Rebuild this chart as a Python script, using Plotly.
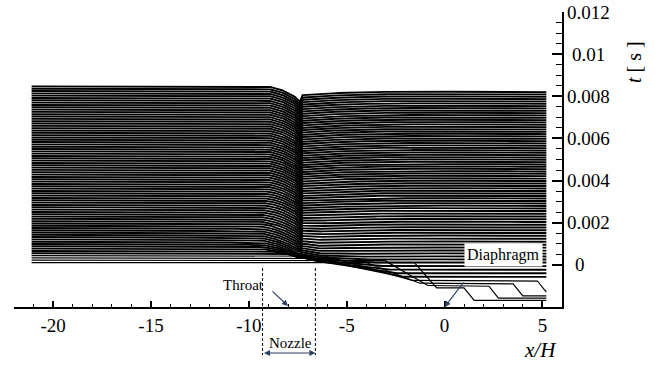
import numpy as np
import plotly.graph_objects as go

# ---------------- data ----------------
# stacked traces: first output time, output interval and number of traces (s)
first_trace_time = 0.00011
trace_interval = 0.00011
trace_count = 77
trace_times = first_trace_time + trace_interval * np.arange(trace_count)

# tube geometry (x/H)
tube_x_range = [-21.1, 5.2]
nozzle_bounds = [-9.3, -6.6]
throat_x = -8.0
diaphragm_x = 0.0

# wave tracks (x/H per second)
shock_speed = 11300.0
fan_head_speed = 14000.0
fan_tail_speed = 4000.0
# trace deflections (s) in the initial shock-tube phase
level_ahead_of_shock = -0.0018
level_behind_shock = -0.0012
reservoir_fraction = 0.12

# late-time (quasi steady) trace profile: deflection vs x
steady_x = [-21.1, -9.5, -8.9, -8.4, -8.0, -7.64, -7.39, -7.28, -6.5, -5.3, -3.3, -1.0, 5.2]
steady_d = [0.0, 0.0, -0.00003, -0.00014, -0.00031, -0.0005, -0.00074, -0.00042,
            -0.00036, -0.00031, -0.00026, -0.00025, -0.00027]

# progress from the shock-tube phase to the steady phase
blend_t = [0.0, 0.0004, 0.001, 0.002, 0.003, 0.0045, 0.0085]
blend_w = [0.0, 0.0, 0.35, 0.65, 0.85, 0.97, 1.0]

# axis ticks
x_tick_vals = [-20, -15, -10, -5, 0, 5]
x_tick_text = ["-20", "-15", "-10", "-5", "0", "5"]
y_tick_vals = [0.0, 0.002, 0.004, 0.006, 0.008, 0.01, 0.012]
y_tick_text = ["0", "0.002", "0.004", "0.006", "0.008", "0.01", "0.012"]

X_RANGE = [-22, 6]
Y_RANGE = [-0.002, 0.012]

# ---------------- build traces ----------------
base_x = np.linspace(tube_x_range[0], tube_x_range[1], 700)


def profile(t):
    xs = shock_speed * t
    xh = -fan_head_speed * t
    xt = -fan_tail_speed * t
    extra = [xs - 0.25, xs + 0.25, xh, xt] + steady_x
    x = np.unique(np.concatenate([base_x, [e for e in extra
                                           if tube_x_range[0] <= e <= tube_x_range[1]]]))
    frac = np.clip((xh - x) / (xh - xt), 0, 1)
    sh = np.clip((x - (xs - 0.25)) / 0.5, 0, 1)
    e = level_behind_shock * frac * (1 - sh) + level_ahead_of_shock * sh
    att = np.interp(x, nozzle_bounds, [reservoir_fraction, 1.0])
    e = e * att
    w = np.interp(t, blend_t, blend_w)
    f = np.interp(x, steady_x, steady_d)
    return x, t + (1 - w) * e + w * f


groups = {"early": ([], []), "late": ([], [])}
for t in trace_times:
    x, y = profile(t)
    gx, gy = groups["early" if t < 0.0005 else "late"]
    gx.extend(x.tolist() + [None])
    gy.extend(y.tolist() + [None])

fig = go.Figure()
for name, width in [("late", 1.9), ("early", 1.2)]:
    gx, gy = groups[name]
    fig.add_trace(go.Scatter(x=gx, y=gy, mode="lines",
                             line=dict(color="black", width=width), hoverinfo="skip",
                             showlegend=False))

FONT = "Liberation Serif"

# plot area in pixels
L, R, T, B = 14, 562, 12, 307
W, H = 659, 365


def px_x(px):
    return (px - L) / (R - L)


def px_y(py):
    return (B - py) / (B - T)


def data_to_paper_x(v):
    return (v - X_RANGE[0]) / (X_RANGE[1] - X_RANGE[0])


fig.update_layout(
    width=W, height=H,
    margin=dict(l=L, r=W - R, t=T, b=H - B),
    paper_bgcolor="white", plot_bgcolor="white",
    font=dict(family=FONT, color="black"),
    xaxis=dict(range=X_RANGE, showgrid=False, zeroline=False,
               showline=True, linecolor="black", linewidth=2,
               ticks="inside", ticklen=6, tickwidth=1.5, tickcolor="black",
               tickvals=x_tick_vals, ticktext=x_tick_text,
               tickfont=dict(family=FONT, size=19),
               minor=dict(ticks="inside", ticklen=3, tickwidth=1, tickcolor="black",
                          tickvals=list(range(-22, 6))),
               ),
    yaxis=dict(range=Y_RANGE, side="right", showgrid=False, zeroline=False,
               showline=True, linecolor="black", linewidth=2,
               ticks="inside", ticklen=10, tickwidth=1.5, tickcolor="black",
               tickvals=y_tick_vals, showticklabels=False,
               minor=dict(ticks="inside", ticklen=6, tickwidth=1, tickcolor="black",
                          tickvals=[i * 0.0005 for i in range(0, 25)]),
               ),
)

ann = []
# right axis labels
for v, txt in zip(y_tick_vals, y_tick_text):
    cx = 580 if txt == "0" else 588
    ann.append(dict(x=px_x(cx), y=v, xref="paper", yref="y", text=txt, showarrow=False,
                    xanchor="center", yanchor="middle", font=dict(family=FONT, size=19)))
# axis titles
ann.append(dict(x=px_x(540), y=px_y(350), xref="paper", yref="paper",
                text="<i>x/H</i>", showarrow=False, xanchor="center", yanchor="middle",
                font=dict(family=FONT, size=21)))
ann.append(dict(x=px_x(634), y=px_y(62), xref="paper", yref="paper",
                text="<i>t</i> [ s ]", showarrow=False, textangle=-90,
                xanchor="center", yanchor="middle", font=dict(family=FONT, size=20)))
# Throat
ann.append(dict(x=px_x(243), y=px_y(285), xref="paper", yref="paper", text="Throat",
                showarrow=False, xanchor="center", yanchor="middle",
                font=dict(family=FONT, size=15)))
ann.append(dict(x=throat_x, y=px_y(306), xref="x", yref="paper", text="",
                showarrow=True, arrowhead=2, arrowsize=1, arrowwidth=1.2,
                ax=-17, ay=-16, axref="pixel", ayref="pixel"))
# Diaphragm
ann.append(dict(x=px_x(503), y=px_y(255), xref="paper", yref="paper", text="Diaphragm",
                showarrow=False, bgcolor="white", borderpad=2,
                xanchor="center", yanchor="middle",
                font=dict(family=FONT, size=16)))
ann.append(dict(x=diaphragm_x, y=px_y(307), xref="x", yref="paper", text="",
                showarrow=True, arrowhead=2, arrowsize=1, arrowwidth=1.2,
                ax=20, ay=-26, axref="pixel", ayref="pixel"))
# Nozzle
ann.append(dict(x=px_x(290), y=px_y(343), xref="paper", yref="paper", text="Nozzle",
                showarrow=False, xanchor="center", yanchor="middle",
                font=dict(family=FONT, size=15)))
ann.append(dict(x=nozzle_bounds[1], y=px_y(353), xref="x", yref="paper", text="",
                showarrow=True, arrowhead=2, startarrowhead=2, arrowside="end+start",
                arrowsize=1, arrowwidth=1.2,
                ax=nozzle_bounds[0], ay=0, axref="x", ayref="pixel"))
fig.update_layout(annotations=ann)

shapes = []
for nb in nozzle_bounds:
    shapes.append(dict(type="line", xref="paper", yref="paper",
                       x0=data_to_paper_x(nb), x1=data_to_paper_x(nb),
                       y0=px_y(268), y1=px_y(355),
                       line=dict(color="black", width=1, dash="3px,2px")))
fig.update_layout(shapes=shapes)

fig.write_html("out.html", config={"displayModeBar": False},
               post_script="document.body.style.margin='0px';")
